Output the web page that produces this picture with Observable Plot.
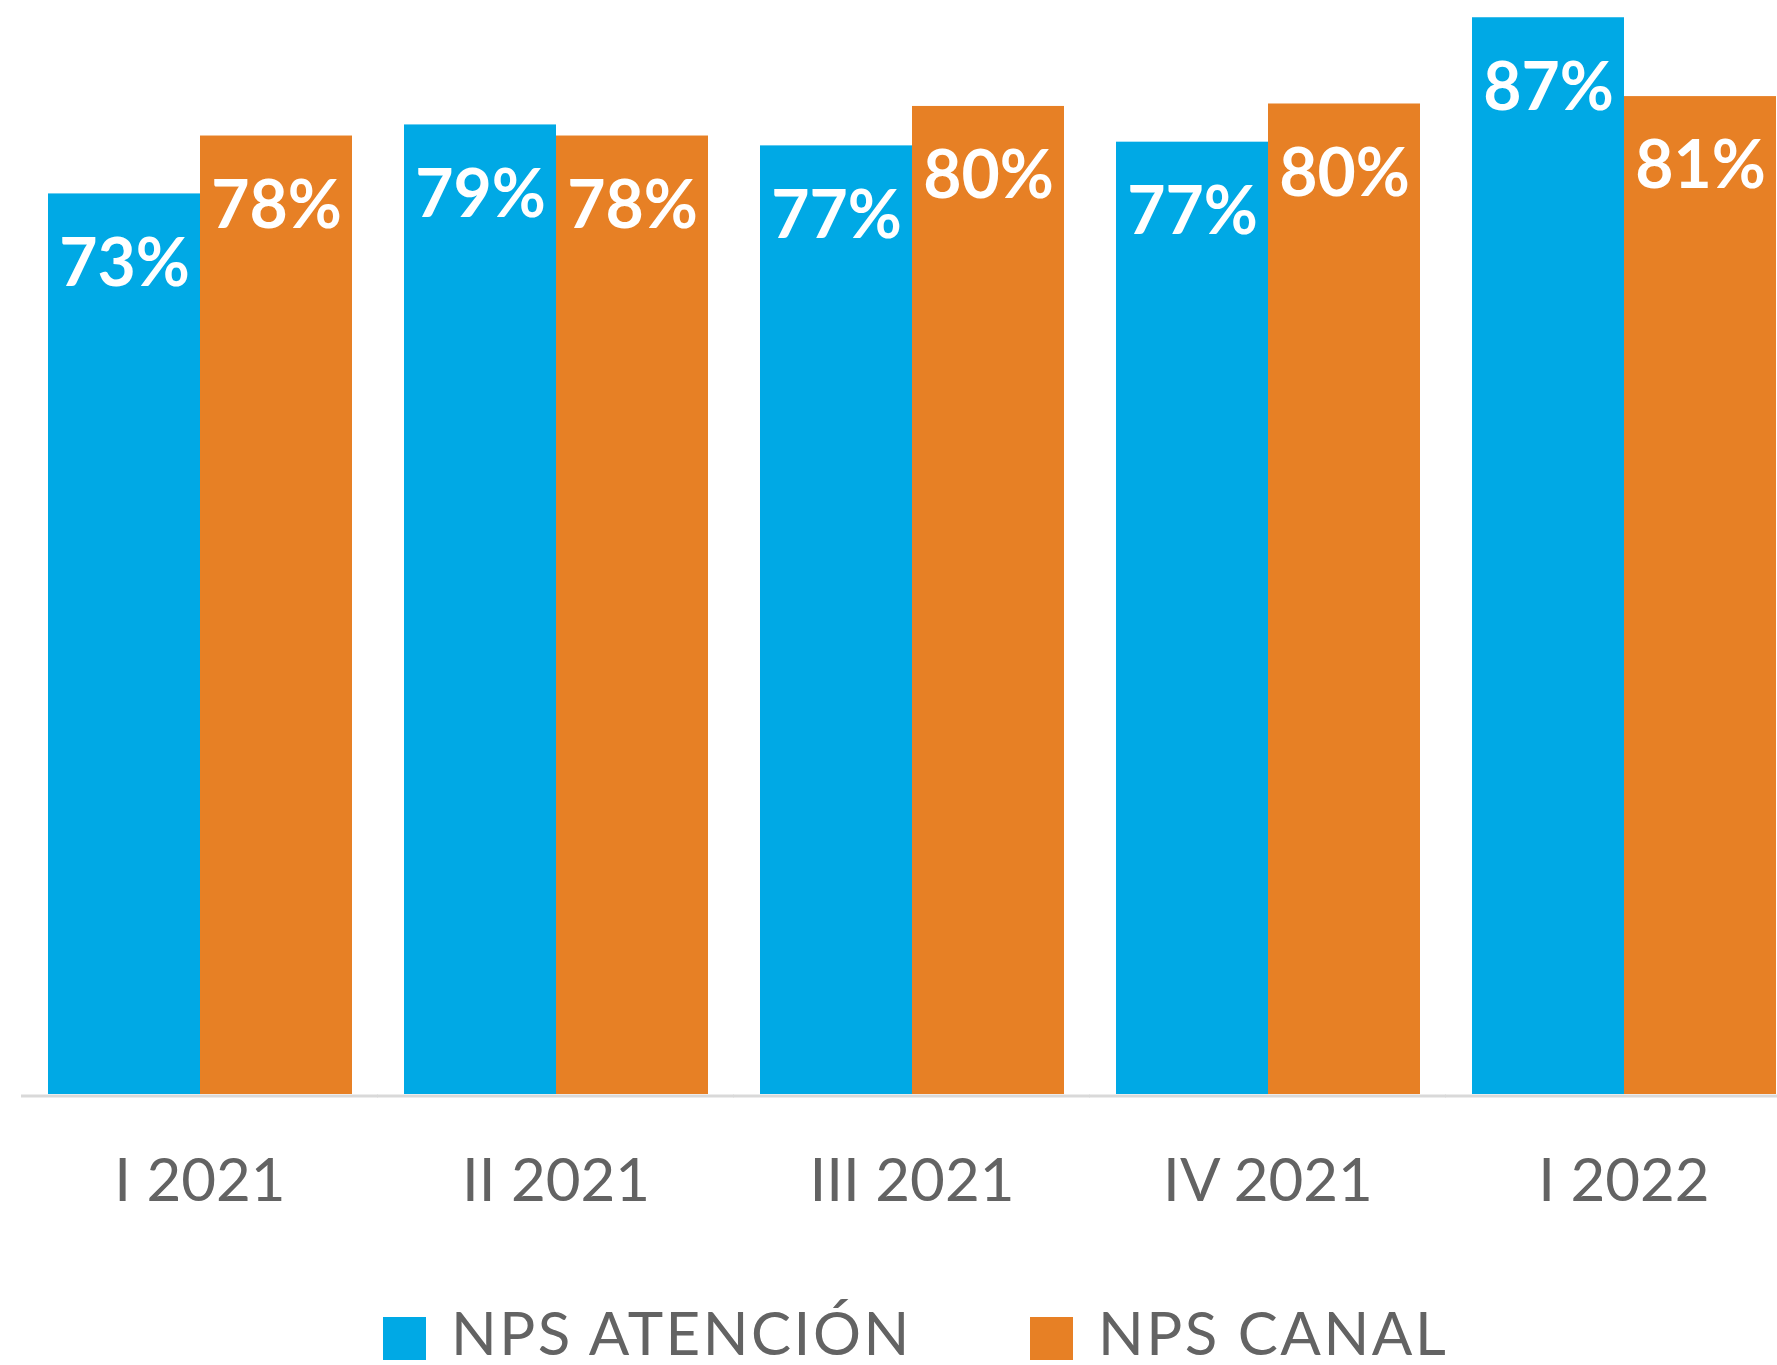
<!DOCTYPE html>
<html>
<head>
<meta charset="utf-8">
<script src="https://cdn.jsdelivr.net/npm/d3@7"></script>
<script src="https://cdn.jsdelivr.net/npm/@observablehq/plot@0.6"></script>
<style>
  html, body { margin: 0; padding: 0; background: #fff; overflow: hidden; width: 1777px; height: 1365px; }
  #chart { width: 1802px; }
  #chart svg { display: block; max-width: none !important; }
  .legend { position: relative; height: 105px; font-family: Lato, "Open Sans", sans-serif; font-size: 60px; color: #636363; letter-spacing: 2.5px; }
  .legend .item { position: absolute; top: 36px; display: flex; align-items: center; }
  .legend .sw { width: 43px; height: 43px; margin-right: 25px; margin-top: 12px; }
</style>
</head>
<body>
<div id="chart"></div>
<div class="legend" id="legend"></div>
<script>
const quarters = ["I 2021", "II 2021", "III 2021", "IV 2021", "I 2022"];
const seriesNames = ["NPS ATENCIÓN", "NPS CANAL"];
const atencion = [73.1, 78.7, 77.0, 77.3, 87.4];
const canal = [77.8, 77.8, 80.2, 80.4, 81.0];
const colors = ["#00A9E5", "#E78025"];

const data = quarters.flatMap((q, i) => [
  {q, series: seriesNames[0], value: atencion[i]},
  {q, series: seriesNames[1], value: canal[i]}
]);

const chart = Plot.plot({
  width: 1802,
  height: 1260,
  marginTop: 0,
  marginBottom: 166,
  marginLeft: 22,
  marginRight: 0,
  style: {fontFamily: "Lato, 'Open Sans', sans-serif", fontSize: "60px", color: "#636363", background: "#fff"},
  fx: {domain: quarters, paddingInner: 0.143, paddingOuter: 0.0715, label: null, tickSize: 0, tickPadding: 64},
  x: {domain: seriesNames, axis: null, padding: 0},
  y: {domain: [0, 88.8], axis: null},
  color: {domain: seriesNames, range: colors},
  marks: [
    Plot.ruleY([0], {stroke: "#d9d9d9", strokeWidth: 3, dy: 1.5, insetLeft: -26, insetRight: -26}),
    Plot.barY(data, {fx: "q", x: "series", y: "value", fill: "series"}),
    Plot.text(data, {
      fx: "q", x: "series", y: "value",
      text: d => Math.round(d.value) + "%",
      fill: "white", fontWeight: "bold", fontSize: 66,
      lineAnchor: "top", dy: 45
    })
  ]
});
document.getElementById("chart").appendChild(chart);

const legend = document.getElementById("legend");
const lefts = [383, 1030];
seriesNames.forEach((name, i) => {
  const item = document.createElement("div");
  item.className = "item";
  item.style.left = lefts[i] + "px";
  const sw = document.createElement("span");
  sw.className = "sw";
  sw.style.background = colors[i];
  const t = document.createElement("span");
  t.textContent = name;
  item.appendChild(sw);
  item.appendChild(t);
  legend.appendChild(item);
});
</script>
</body>
</html>
